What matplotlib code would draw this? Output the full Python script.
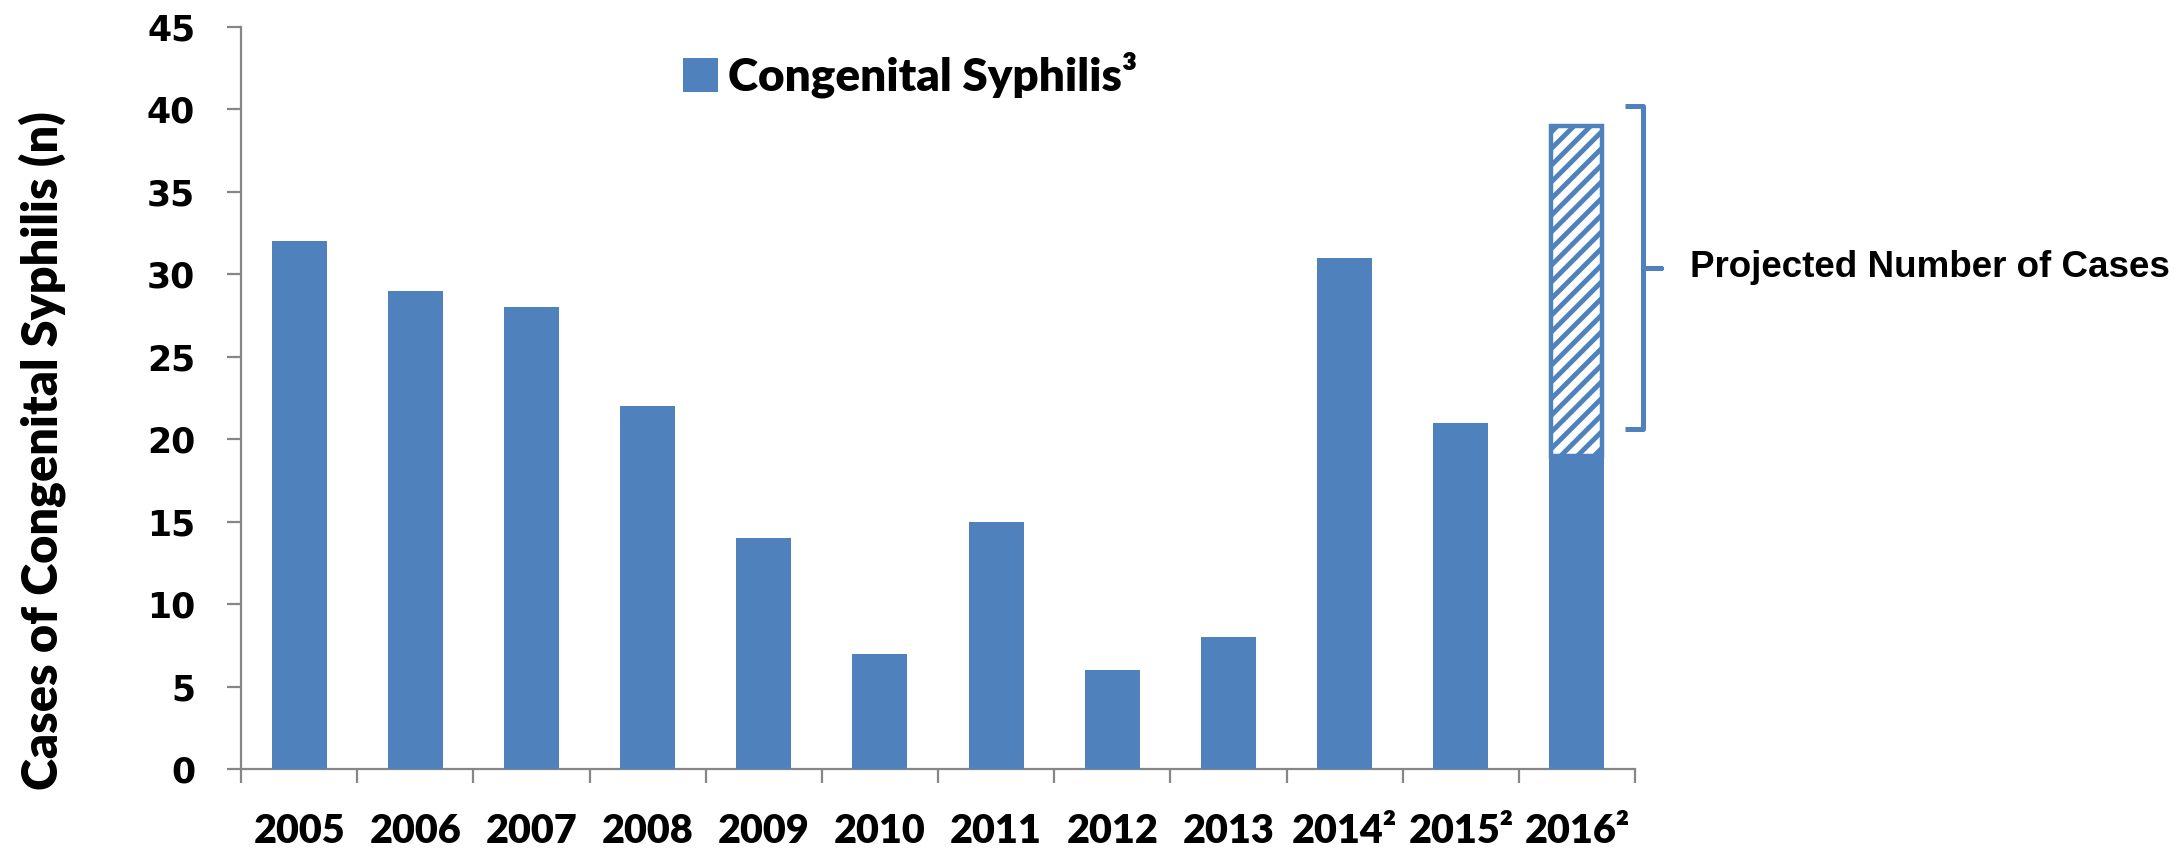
import matplotlib
matplotlib.use("Agg")
import matplotlib.pyplot as plt
from matplotlib import font_manager
from matplotlib.lines import Line2D

# ---- data ----
years = ["2005", "2006", "2007", "2008", "2009", "2010", "2011", "2012",
         "2013", "2014²", "2015²", "2016²"]
cases = [32, 29, 28, 22, 14, 7, 15, 6, 8, 31, 21, 19]
projected_total_2016 = 39
y_ticks = [0, 5, 10, 15, 20, 25, 30, 35, 40, 45]
legend_label = "Congenital Syphilis³"
ylabel = "Cases of Congenital Syphilis (n)"
bracket_label = "Projected Number of Cases"

BLUE = "#4F81BD"
GRAY = "#868686"

def has_font(name):
    try:
        font_manager.findfont(font_manager.FontProperties(family=name),
                              fallback_to_default=False)
        return True
    except Exception:
        return False

W, H = 2184, 851
fig = plt.figure(figsize=(W / 100, H / 100), dpi=100)
ax = fig.add_axes([241 / W, 82 / H, 1394 / W, 742 / H])

x = list(range(len(years)))
bw = 0.473
bars = ax.bar(x, cases, width=bw, color=BLUE, edgecolor="none",
              label=legend_label, zorder=3)

# projected (hatched) portion of 2016
plt.rcParams["hatch.linewidth"] = 3.5
plt.rcParams["hatch.color"] = BLUE
last = len(years) - 1
ax.bar([x[last]], [projected_total_2016 - cases[last]], bottom=[cases[last]],
       width=bw * 0.93, facecolor="white", edgecolor=BLUE, hatch="//",
       linewidth=3.2, zorder=2)

ax.set_xlim(-0.5, len(years) - 0.5)
ax.set_ylim(0, 45)

for s in ["top", "right"]:
    ax.spines[s].set_visible(False)
for s in ["left", "bottom"]:
    ax.spines[s].set_color(GRAY)
    ax.spines[s].set_linewidth(1.6)

ax.set_yticks(y_ticks)
ax.set_yticklabels([str(v) for v in y_ticks])
ax.tick_params(axis="y", direction="out", length=10, width=1.6, color=GRAY,
               pad=23)
for lab in ax.get_yticklabels():
    lab.set_fontfamily("DejaVu Sans")
    lab.set_fontweight("bold")
    lab.set_fontsize(25)

# category labels at centers, tick marks at boundaries
ax.set_xticks(x)
ax.set_xticklabels(years)
ax.tick_params(axis="x", which="major", length=0, pad=32)
ax.set_xticks([i - 0.5 for i in range(len(years) + 1)], minor=True)
ax.tick_params(axis="x", which="minor", direction="out", length=10,
               width=1.6, color=GRAY)
for lab in ax.get_xticklabels():
    lab.set_fontfamily("Lato")
    lab.set_fontweight("heavy")
    lab.set_fontsize(28.5)

fig.text(42 / W, 1 - 451 / H, ylabel, rotation=90, ha="center", va="center",
         fontfamily="Lato", fontweight="heavy", fontsize=35)

# legend
leg = ax.legend(handles=[bars], labels=[legend_label], loc="center left",
                bbox_to_anchor=(683 / W, 1 - 75 / H),
                bbox_transform=fig.transFigure, frameon=False,
                handlelength=0.76, handleheight=0.76, handletextpad=0.22,
                borderpad=0, borderaxespad=0,
                prop={"family": "Lato", "weight": "heavy", "size": 33})

# bracket for projected cases (data coordinates)
bx0, bx1, btip = last + 0.41, last + 0.57, last + 0.72
ytop, ybot = 40.2, 20.6
ymid = (ytop + ybot) / 2
bracket = Line2D([bx0, bx1, bx1, btip, bx1, bx1, bx0],
                 [ytop, ytop, ymid, ymid, ymid, ybot, ybot],
                 color=BLUE, linewidth=3.6, solid_joinstyle="round",
                 solid_capstyle="butt", clip_on=False, zorder=4)
ax.add_line(bracket)

if has_font("Liberation Sans Narrow"):
    fam, fs = "Liberation Sans Narrow", 32
else:
    fam, fs = "Liberation Sans", 26.5
ax.text(last + 0.97, ymid, bracket_label, ha="left", va="center",
        fontfamily=fam, fontweight="bold", fontsize=fs, clip_on=False)

fig.savefig("out.png", dpi=100, facecolor="white")
